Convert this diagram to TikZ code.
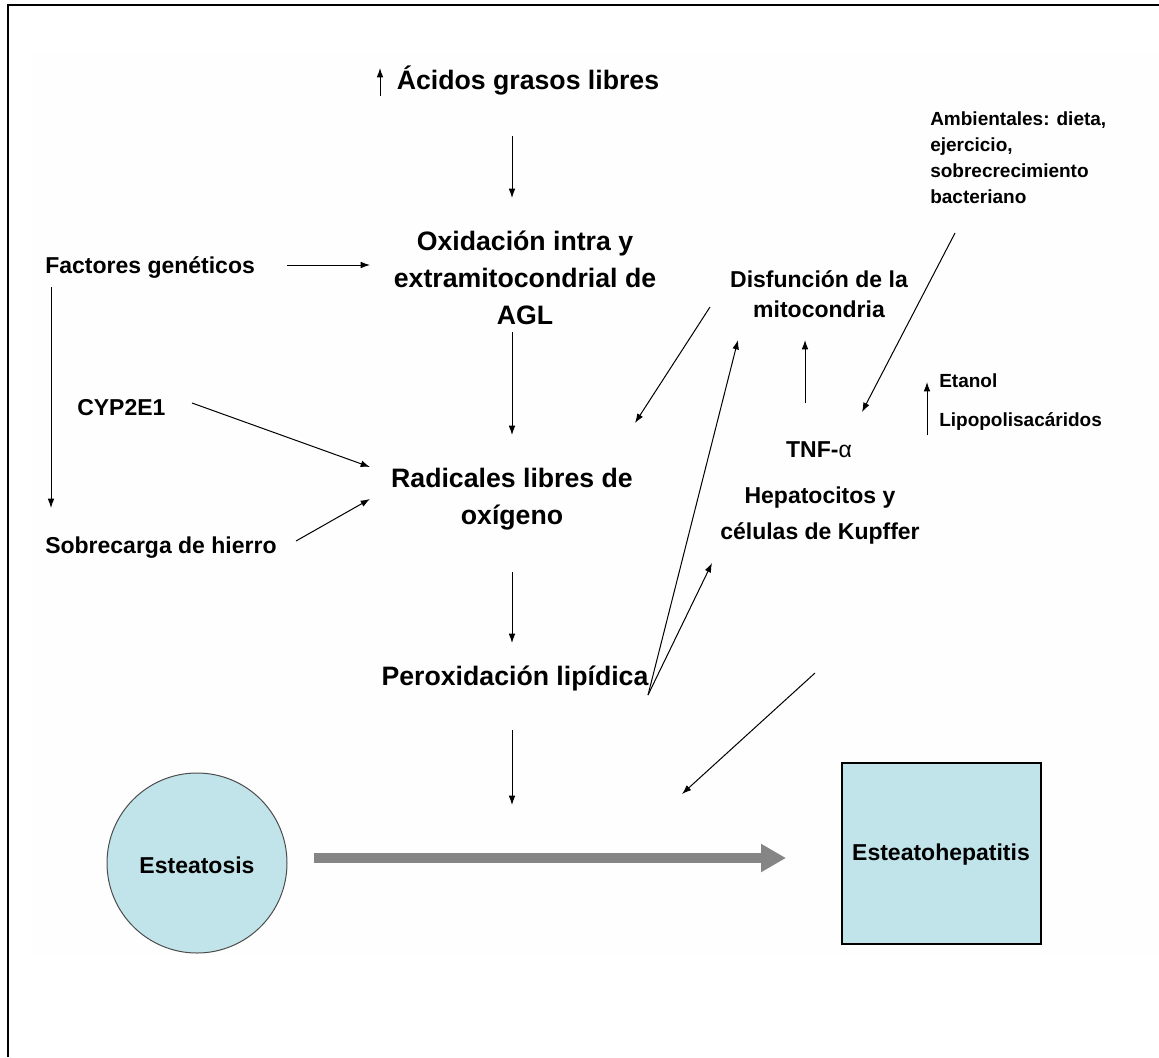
\documentclass[tikz,border=0pt]{standalone}
\usepackage{fontspec}
\setmainfont{Liberation Sans}
\usetikzlibrary{arrows.meta}
\definecolor{lblue}{RGB}{192,228,234}
\definecolor{garrow}{RGB}{133,133,133}
\definecolor{faint}{RGB}{254,254,254}
\begin{document}
\begin{tikzpicture}[x=0.75pt,y=-0.75pt,
  big/.style={font=\fontsize{20}{27.5}\selectfont\bfseries, align=center, inner sep=0pt},
  mid/.style={font=\fontsize{17.25}{24}\selectfont\bfseries, align=center, inner sep=0pt},
  small/.style={font=\fontsize{14.25}{19.5}\selectfont\bfseries, align=left, inner sep=0pt},
  arr/.style={-{Latex[length=7pt,width=5pt]}, line width=0.75pt},
  gray arr/.style={draw=garrow, line width=7.5pt, -{Triangle[length=18.75pt,width=20pt]}}]
\path[use as bounding box] (0,0) rectangle (1159,1057);
\fill[white] (0,0) rectangle (1159,1057);
\fill[faint] (32,52) rectangle (1159,955);
\draw[line width=2.2pt] (8,1057) -- (8,5) -- (1159,5);

% nodes
\node[big] (agl) at (528,81) {Ácidos grasos libres};
\node[big] (oxid) at (525,278) {Oxidación intra y\\extramitocondrial de\\AGL};
\node[mid,anchor=west] (fac) at (45,267) {Factores genéticos};
\node[mid,anchor=west] (cyp) at (77,408) {CYP2E1};
\node[mid,anchor=west] (sob) at (45,548) {Sobrecarga de hierro};
\node[big] (rad) at (512,499) {Radicales libres de\\oxígeno};
\node[big] (per) at (515,678) {Peroxidación lipídica};
\node[mid,font=\fontsize{17.25}{22.5}\selectfont\bfseries] (dis) at (819,294) {Disfunción de la\\mitocondria};
\node[mid] (tnf) at (819,450) {TNF-{\mdseries α}};
\node[mid,font=\fontsize{17.25}{27}\selectfont\bfseries] (hep) at (820,516) {Hepatocitos y\\células de Kupffer};
\node[small,anchor=north west] (amb) at (930,111) {Ambientales: dieta,\\ejercicio,\\sobrecrecimiento\\bacteriano};
\node[small,anchor=west] (eta) at (939,381) {Etanol};
\node[small,anchor=west] (lip) at (939,421) {Lipopolisacáridos};
\node[circle, draw=black!70, line width=0.75pt, fill=lblue, minimum size=135pt, inner sep=0pt] (est) at (197,863) {};
\node[mid] (estt) at (197,865) {Esteatosis};
\node[draw=black, line width=1pt, fill=lblue, minimum width=149.25pt, minimum height=135.75pt, inner sep=0pt] (eh) at (941.5,853.5) {};
\node[mid] (eht) at (941,855) {Esteatohepatitis};

% connector end points
\coordinate (u1) at (380,96);   \coordinate (u2) at (380,68);
\coordinate (a1s) at (512,136); \coordinate (a1e) at (512,198);
\coordinate (a2s) at (287,265); \coordinate (a2e) at (370,265);
\coordinate (a3s) at (51,287);  \coordinate (a3e) at (51,508);
\coordinate (a4s) at (192,403); \coordinate (a4e) at (370,467);
\coordinate (a5s) at (296,541); \coordinate (a5e) at (370,499);
\coordinate (a6s) at (512,332); \coordinate (a6e) at (512,435);
\coordinate (a7s) at (512,572); \coordinate (a7e) at (512,643);
\coordinate (a8s) at (512,730); \coordinate (a8e) at (512,805);
\coordinate (a9s) at (710,307); \coordinate (a9e) at (635,423);
\coordinate (pj) at (648,695);
\coordinate (a10e) at (738,340);
\coordinate (a11e) at (712,563);
\coordinate (a12s) at (805,403); \coordinate (a12e) at (805,340);
\coordinate (a13s) at (955,233); \coordinate (a13e) at (862,412);
\coordinate (a14s) at (927,435); \coordinate (a14e) at (927,382);
\coordinate (a15s) at (815,673); \coordinate (a15e) at (682,794);
\coordinate (g1) at (314,858);  \coordinate (g2) at (786,858);

% connectors
\draw[arr] (u1) -- (u2);
\draw[arr] (a1s) -- (a1e);
\draw[arr] (a2s) -- (a2e);
\draw[arr] (a3s) -- (a3e);
\draw[arr] (a4s) -- (a4e);
\draw[arr] (a5s) -- (a5e);
\draw[arr] (a6s) -- (a6e);
\draw[arr] (a7s) -- (a7e);
\draw[arr] (a8s) -- (a8e);
\draw[arr] (a9s) -- (a9e);
\draw[arr] (pj) -- (a10e);
\draw[arr] (pj) -- (a11e);
\draw[arr] (a12s) -- (a12e);
\draw[arr] (a13s) -- (a13e);
\draw[arr] (a14s) -- (a14e);
\draw[arr] (a15s) -- (a15e);
\draw[gray arr] (g1) -- (g2);
\end{tikzpicture}
\end{document}
